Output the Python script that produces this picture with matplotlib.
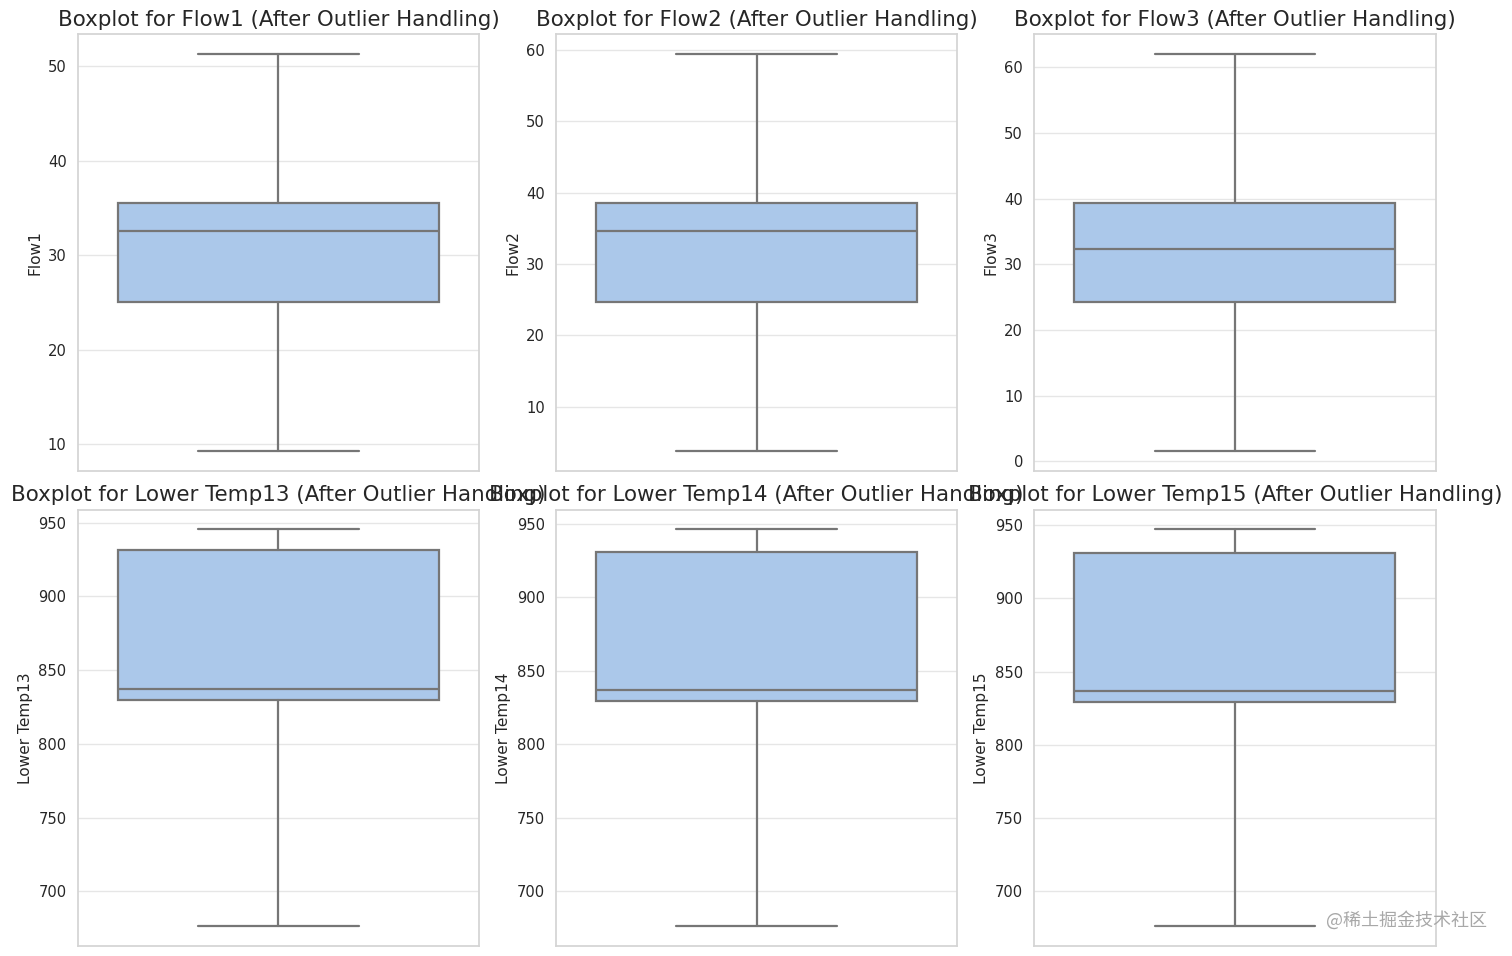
import matplotlib
matplotlib.use("Agg")
import matplotlib.pyplot as plt
import seaborn as sns

sns.set_theme(style="whitegrid")
plt.rcParams['font.family'] = ['DejaVu Sans']

# Data (five-number summaries)
columns = ["Flow1", "Flow2", "Flow3", "Lower Temp13", "Lower Temp14", "Lower Temp15"]
whisker_low = [9.33, 3.84, 1.61, 676.4, 676.4, 676.3]
q1_values = [25.08, 24.69, 24.29, 829.4, 829.2, 829.0]
medians = [32.59, 34.67, 32.36, 837.1, 836.9, 836.9]
q3_values = [35.59, 38.59, 39.41, 931.1, 931.0, 930.9]
whisker_high = [51.3, 59.38, 62.03, 945.3, 946.1, 947.1]

box_color = "#abc8ea"
line_color = "#767676"

fig = plt.figure(figsize=(15.12, 9.56), dpi=100)
axes = fig.subplots(2, 3)
fig.subplots_adjust(left=0.0514, right=0.9495, top=0.9641, bottom=0.0105,
                    wspace=0.191, hspace=0.0894)

for i, ax in enumerate(axes.flat):
    stats = [{
        "whislo": whisker_low[i], "q1": q1_values[i], "med": medians[i],
        "q3": q3_values[i], "whishi": whisker_high[i], "fliers": [],
    }]
    lp = dict(color=line_color, linewidth=1.6)
    ax.bxp(stats, positions=[0], widths=0.8, patch_artist=True, showfliers=False,
           boxprops=dict(facecolor=box_color, edgecolor=line_color, linewidth=1.6),
           medianprops=lp, whiskerprops=lp, capprops=lp)
    ax.set_xlim(-0.5, 0.5)
    ax.set_xticks([])
    ax.set_title(f"Boxplot for {columns[i]} (After Outlier Handling)",
                 fontsize=15.4, color="#262626", pad=6)
    ax.set_ylabel(columns[i], fontsize=11.1, color="#262626", labelpad=4)
    ax.tick_params(axis="y", labelsize=10.6, labelcolor="#262626", length=0, pad=8)
    ax.grid(True, axis="y", color="#e6e6e6", linewidth=1)
    ax.grid(False, axis="x")
    for sp in ax.spines.values():
        sp.set_color("#d4d4d4")
        sp.set_linewidth(1.25)

fig.text(1487 / 1512, 1 - 920 / 956, "@稀土掘金技术社区", ha="right", va="center",
         fontsize=13, color="#a8a8a8",
         family=["Noto Sans CJK SC", "DejaVu Sans"])

fig.savefig("out.png", dpi=100)
